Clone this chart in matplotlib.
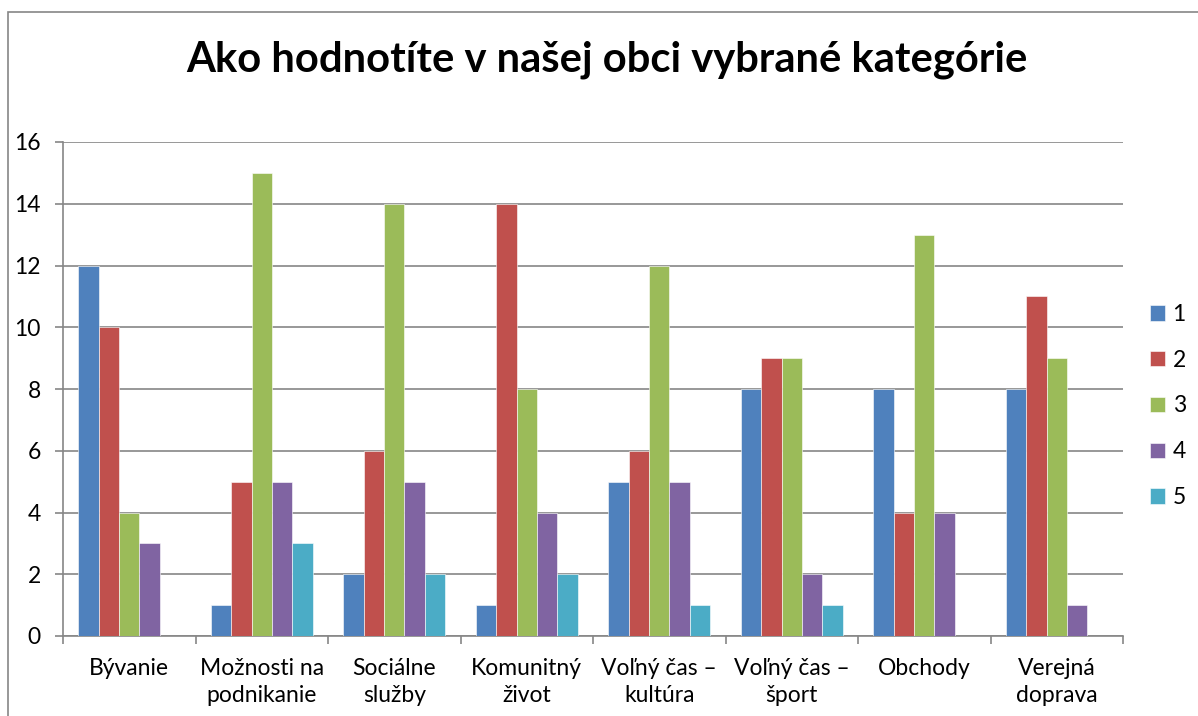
import numpy as np
import matplotlib.pyplot as plt
from matplotlib.patches import Rectangle

CATEGORIES = ["Bývanie", "Možnosti na\npodnikanie", "Sociálne\nslužby", "Komunitný\nživot",
              "Voľný čas –\nkultúra", "Voľný čas –\nšport", "Obchody", "Verejná\ndoprava"]
SERIES = ["1", "2", "3", "4", "5"]
VALUES_1 = [12, 1, 2, 1, 5, 8, 8, 8]
VALUES_2 = [10, 5, 6, 14, 6, 9, 4, 11]
VALUES_3 = [4, 15, 14, 8, 12, 9, 13, 9]
VALUES_4 = [3, 5, 5, 4, 5, 2, 4, 1]
VALUES_5 = [0, 3, 2, 2, 1, 1, 0, 0]
COLOURS = ["#4F81BD", "#C0504D", "#9BBB59", "#8064A2", "#4BACC6"]

plt.rcParams["font.family"] = ["Lato", "DejaVu Sans"]

W, H = 1198, 716
FS = 16.5
fig = plt.figure(figsize=(W / 100, H / 100), dpi=100)
fig.patches.append(Rectangle((8 / W, -0.2), 1.2, 1.2 - 12 / H, transform=fig.transFigure,
                             fill=False, edgecolor="#868686", linewidth=1.2))

ax = fig.add_axes([63 / W, (H - 636) / H, (1123 - 63) / W, (636 - 142) / H])

series = [VALUES_1, VALUES_2, VALUES_3, VALUES_4, VALUES_5]
x = np.arange(len(CATEGORIES))
width = 1 / 6.5
for i, (name, vals, col) in enumerate(zip(SERIES, series, COLOURS)):
    ax.bar(x + (i - 2) * width, vals, width, color=col, label=name,
           edgecolor="white", linewidth=0.4, zorder=3)

ax.set_xlim(-0.5, len(CATEGORIES) - 0.5)
ax.set_ylim(0, 16)
ax.set_yticks(range(0, 17, 2))
ax.yaxis.grid(True, color="#868686", linewidth=1.2, zorder=0)
ax.set_xticks(x)
ax.set_xticklabels(CATEGORIES, fontsize=FS, linespacing=1.36)
ax.tick_params(axis="x", length=0, pad=16)
ax.set_xticks(np.arange(-0.5, len(CATEGORIES)), minor=True)
ax.tick_params(axis="x", which="minor", length=6, color="#868686", width=1.2)
ax.tick_params(axis="y", labelsize=FS, length=6, color="#868686", width=1.2, pad=10)
for side in ["top", "right"]:
    ax.spines[side].set_visible(False)
for side in ["left", "bottom"]:
    ax.spines[side].set_color("#868686")
    ax.spines[side].set_linewidth(1.2)

fig.text(607 / W, 1 - 60 / H, "Ako hodnotíte v našej obci vybrané kategórie",
         ha="center", va="center", fontsize=30.1, fontweight="bold")

ax.legend(loc="center left", bbox_to_anchor=(1129 / W, (H - 406) / H),
          bbox_transform=fig.transFigure, frameon=False, fontsize=FS,
          handlelength=0.65, handleheight=0.65, handletextpad=0.35, labelspacing=1.08)

fig.savefig("out.png", dpi=100)
